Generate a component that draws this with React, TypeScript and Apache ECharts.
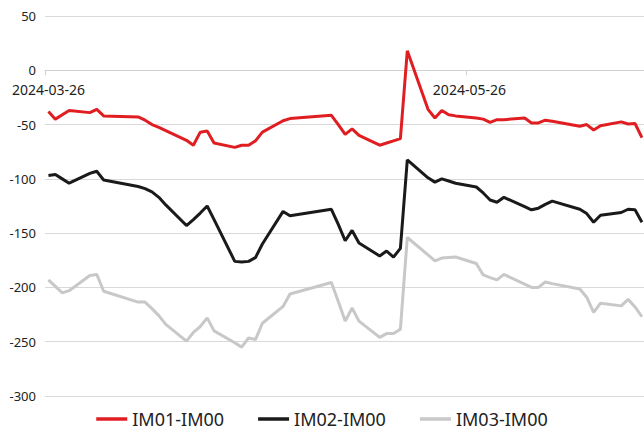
import React, { useEffect, useRef } from "react";
import * as echarts from "echarts";

const dates = [
  "2024-03-26", "2024-03-27", "2024-03-28", "2024-03-29",
  "2024-04-01", "2024-04-02", "2024-04-03", "2024-04-08", "2024-04-09", "2024-04-10", "2024-04-11", "2024-04-12",
  "2024-04-15", "2024-04-16", "2024-04-17", "2024-04-18", "2024-04-19", "2024-04-22", "2024-04-23", "2024-04-24",
  "2024-04-25", "2024-04-26", "2024-04-29", "2024-04-30",
  "2024-05-06", "2024-05-07", "2024-05-08", "2024-05-09", "2024-05-10", "2024-05-13", "2024-05-14", "2024-05-15",
  "2024-05-16", "2024-05-17", "2024-05-20", "2024-05-21", "2024-05-22", "2024-05-23", "2024-05-24", "2024-05-27",
  "2024-05-28", "2024-05-29", "2024-05-30", "2024-05-31",
  "2024-06-03", "2024-06-04", "2024-06-05", "2024-06-06", "2024-06-07", "2024-06-11", "2024-06-12", "2024-06-13",
  "2024-06-14", "2024-06-17", "2024-06-18", "2024-06-19", "2024-06-20",
];

const im01 = [
  -38, -45, -41, -37,
  -39, -36, -42, -43, -46, -50, -52.5, -55.5,
  -64.5, -69, -57, -56, -67, -71, -69, -69,
  -65, -57, -46.5, -44.5,
  -41.5, -50, -59, -54, -60, -69, -67, -65,
  -63, 18, -36, -44, -37, -41, -42, -44,
  -45, -48, -45.5, -45.5,
  -44, -48.5, -48.5, -46, -47, -51.5, -50, -55,
  -51, -47.5, -49.5, -49, -62,
];

const im02 = [
  -97, -96, -100, -104,
  -95, -93, -101, -107, -109, -112, -117, -124,
  -143, -137.5, -131.5, -125, -137.5, -176, -176.5, -176,
  -172.5, -160, -130, -134,
  -128, -142, -157, -147.5, -159, -171, -166.5, -172,
  -164, -82.5, -99, -103, -100, -102, -104, -107.5,
  -113, -119.5, -121.5, -117,
  -125.5, -128.5, -127, -123.5, -120.5, -128, -132, -140,
  -133.5, -131, -128, -128.5, -140,
];

const im03 = [
  -193, -199, -205, -203,
  -189, -188, -203.5, -213.5, -213.5, -219.5, -226, -234,
  -249.5, -241.5, -236, -228, -240, -251, -255, -246.5,
  -248, -233, -217.5, -206,
  -195.5, -213, -231, -219, -231, -246, -242.5, -242.5,
  -238.5, -154, -170, -175.5, -173, -172.5, -172, -178,
  -188.5, -191, -193, -188,
  -197, -200, -200, -195, -196.5, -201.5, -209, -223,
  -214.5, -217, -211, -218, -227,
];

const seriesNames = ["IM01-IM00", "IM02-IM00", "IM03-IM00"];
const xLabelDates = ["2024-03-26", "2024-05-26"];
const yTicks = { min: -300, max: 50, interval: 50 };

const DAY = 86400000;
function ts(s: string): number {
  const [y, m, d] = s.split("-").map(Number);
  return Date.UTC(y, m - 1, d);
}
function fmt(v: number): string {
  const d = new Date(v);
  const p = (n: number) => (n < 10 ? "0" + n : "" + n);
  return d.getUTCFullYear() + "-" + p(d.getUTCMonth() + 1) + "-" + p(d.getUTCDate());
}

export default function App() {
  const ref = useRef<HTMLDivElement>(null);
  useEffect(() => {
    document.body.style.margin = "0";
    if (!ref.current) return;
    const chart = echarts.init(ref.current, null, { renderer: "svg" });
    const t0 = ts(dates[0]);
    // x position in days since the first date; each point sits mid-day
    const dayOf = (s: string) => (ts(s) - t0) / DAY;
    const mk = (vals: number[]) => dates.map((d, i) => [dayOf(d) + 0.5, vals[i]]);
    const font = "'Noto Sans', sans-serif";
    const colors = ["#E01E22", "#1A1A1A", "#C8C8C8"];
    const gridTop = 16;
    const gridBottom = 34;
    const plotH = 430 - gridTop - gridBottom;
    // shift the x axis from the bottom of the grid up to the y = 0 line
    const zeroOffset = -((0 - yTicks.min) / (yTicks.max - yTicks.min)) * plotH;
    chart.setOption({
      animation: false,
      color: colors,
      grid: { left: 45, right: 0, top: gridTop, bottom: gridBottom, containLabel: false },
      legend: {
        data: seriesNames,
        top: 405,
        left: "center",
        icon: "rect",
        itemWidth: 31,
        itemHeight: 3.5,
        itemGap: 34,
        textStyle: { fontSize: 18, color: "#222", fontFamily: font },
      },
      xAxis: {
        type: "value",
        min: 0,
        max: 86.8,
        position: "bottom",
        offset: zeroOffset,
        axisLine: { onZero: false, lineStyle: { color: "#D0D0D0", width: 1 } },
        axisTick: {
          show: true,
          length: 5,
          customValues: xLabelDates.map(dayOf),
          lineStyle: { color: "#D0D0D0" },
        },
        axisLabel: {
          customValues: xLabelDates.map((d) => dayOf(d) + 0.5),
          formatter: (v: number) => fmt(t0 + Math.floor(v) * DAY),
          fontSize: 14,
          color: "#222",
          fontFamily: font,
          margin: 12,
        },
        splitLine: { show: false },
      },
      yAxis: {
        type: "value",
        min: yTicks.min,
        max: yTicks.max,
        interval: yTicks.interval,
        axisLine: { show: false, onZero: false },
        axisTick: { show: false },
        axisLabel: { fontSize: 13, color: "#222", fontFamily: font, margin: 9 },
        splitLine: { lineStyle: { color: "#D9D9D9", width: 1 } },
      },
      series: [
        { name: seriesNames[0], type: "line", data: mk(im01), showSymbol: false, symbol: "none", lineStyle: { width: 3, color: colors[0] }, z: 4 },
        { name: seriesNames[1], type: "line", data: mk(im02), showSymbol: false, symbol: "none", lineStyle: { width: 3, color: colors[1] }, z: 3 },
        { name: seriesNames[2], type: "line", data: mk(im03), showSymbol: false, symbol: "none", lineStyle: { width: 3, color: colors[2] }, z: 2 },
      ],
    });
    return () => chart.dispose();
  }, []);
  return <div ref={ref} style={{ width: 644, height: 430 }} />;
}
